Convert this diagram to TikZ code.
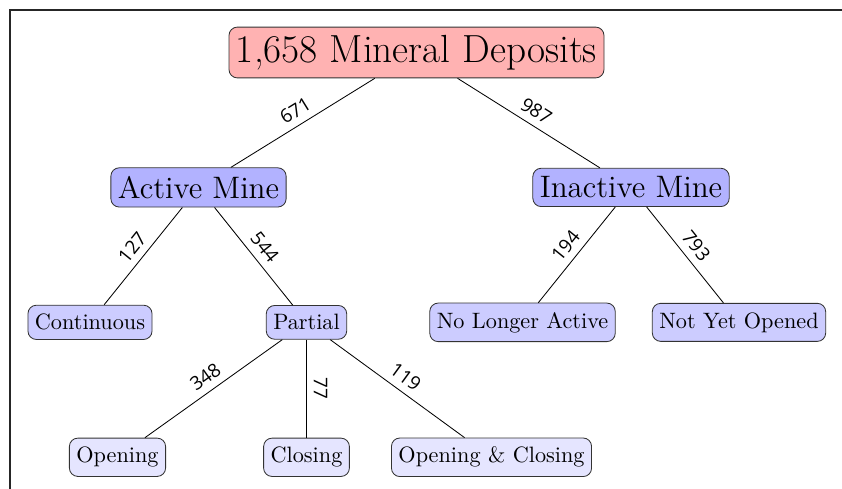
\documentclass[tikz,border=0pt]{standalone}
\usepackage{fontspec}
\usepackage{tikz}
\usetikzlibrary{arrows,shapes}
\newfontfamily\countfont{Open Sans}
\tikzstyle{box}=[draw=black!80,rounded corners=4pt,inner xsep=3.33pt,inner ysep=4.3pt,font=\fontsize{10.6}{12}\selectfont]
\tikzstyle{root box}=[box,fill=red!30,inner ysep=3.8pt,font=\fontsize{18.7}{22}\selectfont]
\tikzstyle{mine box}=[box,fill=blue!30,inner ysep=4pt,font=\fontsize{14.8}{18}\selectfont]
\tikzstyle{state box}=[box,fill=blue!20]
\tikzstyle{part box}=[box,fill=blue!10]
\tikzstyle{branch}=[draw]
\tikzstyle{count}=[font=\countfont\small,above,sloped]
\tikzstyle{count down}=[count,allow upside down]

\begin{document}
\begin{tikzpicture}[x=1.675cm,y=-2.26cm]
    \useasboundingbox (0,-0.389) rectangle (8.42,3.233);
    \draw[black!85,line width=0.6pt] (0.1,3.233) |- (8.42,-0.315);
    \node[root box] (deposits) at (4.165,0) {1,658 Mineral Deposits};
    \foreach \pos/\name/\lbl in {{(1.985,1)/active/Active Mine}, {(6.31,1)/inactive/Inactive Mine}}
        \node[mine box] (\name) at \pos {\lbl};
    \foreach \pos/\name/\lbl in {{(0.90,2)/continuous/Continuous}, {(3.065,2)/partial/Partial},
                                 {(5.225,2)/nolonger/No Longer Active}, {(7.39,2)/notyet/Not Yet Opened}}
        \node[state box] (\name) at \pos {\lbl};
    \foreach \pos/\name/\lbl in {{(1.175,3)/opening/Opening}, {(3.065,3)/closing/Closing},
                                 {(4.915,3)/both/Opening \& Closing}}
        \node[part box] (\name) at \pos {\lbl};
    \foreach \source/\dest/\num/\side in {deposits/active/671/count, deposits/inactive/987/count,
                                          active/continuous/127/count, active/partial/544/count,
                                          inactive/nolonger/194/count, inactive/notyet/793/count,
                                          partial/opening/348/count, partial/closing/77/count down,
                                          partial/both/119/count}
        \path[branch] (\source) -- node[\side] {\num} (\dest);
\end{tikzpicture}
\end{document}
